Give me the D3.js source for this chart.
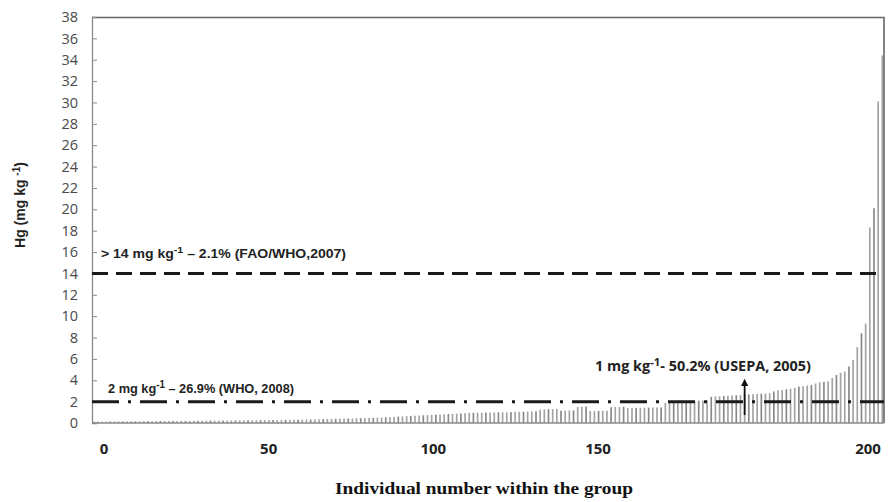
<!DOCTYPE html>
<html>
<head>
<meta charset="utf-8">
<script src="https://cdn.jsdelivr.net/npm/d3@7"></script>
<style>
  body { margin: 0; background: #fff; }
  svg { display: block; }
</style>
</head>
<body>
<div id="chart"></div>
<script>
// Hg concentration per individual, sorted ascending (mg/kg)
const hgValues = [
  0.12,0.12,0.13,0.13,0.14,0.14,0.15,0.15,0.15,0.16,
  0.16,0.16,0.17,0.17,0.17,0.18,0.18,0.18,0.19,0.19,
  0.19,0.2,0.2,0.2,0.21,0.21,0.21,0.22,0.22,0.22,
  0.23,0.23,0.23,0.24,0.24,0.25,0.25,0.25,0.26,0.26,
  0.27,0.27,0.28,0.28,0.29,0.29,0.3,0.3,0.31,0.31,
  0.32,0.32,0.33,0.34,0.35,0.36,0.37,0.38,0.39,0.4,
  0.41,0.42,0.43,0.44,0.45,0.46,0.47,0.48,0.5,0.52,
  0.54,0.56,0.58,0.6,0.62,0.64,0.66,0.68,0.7,0.72,
  0.74,0.76,0.78,0.8,0.82,0.84,0.86,0.88,0.9,0.92,
  0.95,0.96,0.97,0.97,0.98,0.98,0.99,1.0,1.0,1.0,
  1.02,1.04,1.05,1.06,1.07,1.08,1.1,1.25,1.28,1.3,
  1.3,1.32,1.15,1.16,1.17,1.18,1.5,1.52,1.54,1.12,
  1.12,1.13,1.14,1.15,1.48,1.5,1.5,1.52,1.4,1.4,
  1.42,1.42,1.43,1.44,1.45,1.45,1.46,1.88,1.9,1.92,
  1.98,2.0,2.0,2.02,2.05,2.08,2.1,2.12,2.45,2.48,
  2.5,2.52,2.55,2.58,2.6,2.62,2.65,2.68,2.7,2.72,
  2.74,2.76,2.8,2.95,3.05,3.1,3.15,3.2,3.3,3.4,
  3.45,3.5,3.55,3.7,3.8,3.85,3.9,4.2,4.5,4.7,
  4.8,5.3,5.9,7.1,8.4,9.3,18.3,20.1,30.1,34.4
];

const yTicks = d3.range(0, 39, 2);
const xTickLabels = [0, 50, 100, 150];
const lastLabel = 200;

// guideline values and their notes
const faoLimit = 14;
const whoLimit = 2;
const usepaMark = 1;
const faoNote = { main: "> 14 mg kg", sup: "-1", rest: " \u2013 2.1% (FAO/WHO,2007)" };
const whoNote = { main: "2 mg kg", sup: "-1", rest: " \u2013 26.9% (WHO, 2008)" };
const usepaNote = { main: "1 mg kg", sup: "-1", rest: "- 50.2% (USEPA, 2005)" };
const usepaIndex = 156;

const W = 888, H = 502;
const margin = { top: 17, right: 4, bottom: 79, left: 92 };
const width = W - margin.left - margin.right,
      height = H - margin.top - margin.bottom;

const svg = d3.select("#chart").append("svg")
    .attr("width", W)
    .attr("height", H);

const g = svg.append("g")
    .attr("transform", "translate(" + margin.left + "," + margin.top + ")");

const x = d3.scaleBand()
    .domain(d3.range(hgValues.length))
    .range([0, width])
    .paddingInner(0.6)
    .paddingOuter(0.2);

const y = d3.scaleLinear()
    .domain([0, 38])
    .range([height, 0]);

// label positions along the bottom (hand placed in the original)
const xLabel = d3.scaleLinear().domain([0, 150]).range([12, 506]);

// bars
g.append("g")
    .selectAll("rect")
    .data(hgValues)
    .enter()
    .append("rect")
    .attr("x", (d, i) => x(i))
    .attr("width", x.bandwidth())
    .attr("y", d => y(d))
    .attr("height", d => height - y(d))
    .style("fill", (d, i) => i % 3 === 1 ? "#888" : "#a3a3a3");

// frame (top and right)
g.append("path")
    .attr("d", "M0,0.5H" + width + "V" + height)
    .attr("fill", "none")
    .attr("stroke", "#666")
    .attr("stroke-width", 1.6);

// y axis with inside ticks
const yAxis = g.append("g")
    .call(d3.axisLeft(y).tickValues(yTicks).tickSize(-5).tickPadding(14));
yAxis.select(".domain").attr("stroke", "#8a8a8a").attr("stroke-width", 1.3);
yAxis.selectAll(".tick line").attr("stroke", "#8a8a8a");
yAxis.selectAll("text")
    .style("font-family", "'Open Sans', sans-serif")
    .style("font-size", "14.5px")
    .attr("fill", "#4a4a4a");

// bottom axis line
g.append("line")
    .attr("x1", 0).attr("x2", width)
    .attr("y1", height).attr("y2", height)
    .attr("stroke", "#8a8a8a")
    .attr("stroke-width", 1.3);

// x labels
const xl = g.append("g")
    .style("font-family", "'Open Sans', sans-serif")
    .style("font-size", "15px")
    .style("font-weight", "bold")
    .attr("fill", "#222");
xl.selectAll("text.xt")
    .data(xTickLabels)
    .enter()
    .append("text")
    .attr("class", "xt")
    .attr("x", d => xLabel(d))
    .attr("y", height + 31)
    .attr("text-anchor", "middle")
    .text(d => d);
xl.append("text")
    .attr("x", width - 16)
    .attr("y", height + 31)
    .attr("text-anchor", "middle")
    .text(lastLabel);

// guideline lines
g.append("line")
    .attr("x1", 0).attr("x2", width)
    .attr("y1", y(faoLimit)).attr("y2", y(faoLimit))
    .attr("stroke", "#1a1a1a")
    .attr("stroke-width", 3)
    .attr("stroke-dasharray", "16,8");

g.append("line")
    .attr("x1", 0).attr("x2", width)
    .attr("y1", y(whoLimit)).attr("y2", y(whoLimit))
    .attr("stroke", "#1a1a1a")
    .attr("stroke-width", 3)
    .attr("stroke-dasharray", "27,9,3,9");

// arrow for USEPA note
svg.append("defs").append("marker")
    .attr("id", "arrow")
    .attr("viewBox", "0 0 10 10")
    .attr("refX", 5).attr("refY", 5)
    .attr("markerWidth", 4).attr("markerHeight", 4)
    .attr("orient", "auto")
    .append("path")
    .attr("d", "M0,0L10,5L0,10z")
    .attr("fill", "#111");

const ax = x(usepaIndex) + x.bandwidth() / 2;
g.append("line")
    .attr("x1", ax).attr("x2", ax)
    .attr("y1", height - 8).attr("y2", y(usepaMark) - 30)
    .attr("stroke", "#111")
    .attr("stroke-width", 1.8)
    .attr("marker-end", "url(#arrow)");

// notes
function note(parent, n, px, py, font, size, len) {
    const t = parent.append("text")
        .attr("x", px).attr("y", py)
        .style("font-family", font)
        .style("font-size", size + "px")
        .style("font-weight", "bold")
        .attr("fill", "#222");
    t.append("tspan").text(n.main);
    t.append("tspan").attr("dy", -5).style("font-size", (size - 3) + "px").text(n.sup);
    t.append("tspan").attr("dy", 5).text(n.rest);
    if (len) t.attr("textLength", len).attr("lengthAdjust", "spacingAndGlyphs");
}
note(g, faoNote, 9, y(faoLimit) - 15, "'Liberation Sans', Arial, sans-serif", 12.5, 245);
note(g, whoNote, 16, y(whoLimit) - 9, "'Liberation Sans', Arial, sans-serif", 13, 186);
note(g, usepaNote, 503, y(usepaMark) - 41, "'Open Sans', sans-serif", 14, 216);

// axis titles
const yt = svg.append("text")
    .attr("transform", "translate(25,205) rotate(-90)")
    .attr("text-anchor", "middle")
    .style("font-family", "'Liberation Sans', Arial, sans-serif")
    .style("font-size", "14px")
    .style("font-weight", "bold")
    .attr("fill", "#222");
yt.append("tspan").text("Hg (mg kg ");
yt.append("tspan").attr("dy", -5).style("font-size", "10px").text("-1");
yt.append("tspan").attr("dy", 5).text(")");

svg.append("text")
    .attr("x", 335)
    .attr("y", 494)
    .attr("textLength", 298)
    .attr("lengthAdjust", "spacingAndGlyphs")
    .style("font-family", "'Liberation Serif', 'Times New Roman', serif")
    .style("font-size", "17px")
    .style("font-weight", "bold")
    .attr("fill", "#111")
    .text("Individual number within the group");
</script>
</body>
</html>
